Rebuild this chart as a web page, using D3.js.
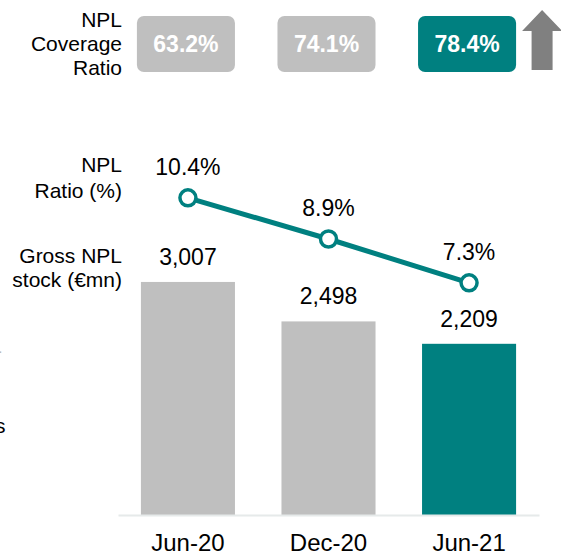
<!DOCTYPE html>
<html>
<head>
<meta charset="utf-8">
<script src="https://cdn.jsdelivr.net/npm/d3@7"></script>
<style>
  html, body { margin: 0; padding: 0; background: #fff; overflow: hidden; }
  svg { display: block; font-family: "Liberation Sans", Arial, sans-serif; }
</style>
</head>
<body>
<svg width="561" height="553"></svg>
<script>
// Chart data.
var periods = ["Jun-20", "Dec-20", "Jun-21"];
var grossNpl = [3007, 2498, 2209];
var nplRatio = [10.4, 8.9, 7.3];
var coverage = [63.2, 74.1, 78.4];

var grey = "#bfbfbf",
    teal = "#008080";

var svg = d3.select("svg");

// Scales.
var x = d3.scaleBand()
    .domain(periods)
    .range([118, 539])
    .paddingInner(0.331)
    .paddingOuter(0.163);

var yBar = d3.scaleLinear().domain([0, 4000]).range([515, 205]);
var yLine = d3.scaleLinear().domain([0, 12]).range([483, 154]);

var fmt = d3.format(",");
var last = periods[periods.length - 1];
function colorOf(p) { return p === last ? teal : grey; }

// Bars.
svg.append("g").selectAll("rect")
    .data(periods)
    .enter().append("rect")
    .attr("x", function (d) { return x(d); })
    .attr("y", function (d, i) { return yBar(grossNpl[i]); })
    .attr("width", x.bandwidth())
    .attr("height", function (d, i) { return yBar(0) - yBar(grossNpl[i]); })
    .attr("fill", colorOf);

// Bar value labels.
svg.append("g").selectAll("text")
    .data(periods)
    .enter().append("text")
    .attr("x", function (d) { return x(d) + x.bandwidth() / 2; })
    .attr("y", function (d, i) { return yBar(grossNpl[i]) - 17; })
    .attr("text-anchor", "middle")
    .attr("font-size", 23)
    .attr("fill", "#000")
    .text(function (d, i) { return fmt(grossNpl[i]); });

// Baseline axis.
var axis = svg.append("g")
    .attr("transform", "translate(0," + yBar(0) + ")")
    .call(d3.axisBottom(x).tickSize(0).tickPadding(19));
axis.select(".domain").attr("stroke", "#e6eaea").attr("stroke-width", 2);
axis.selectAll(".tick text")
    .attr("font-size", 24)
    .attr("font-family", "Liberation Sans, Arial, sans-serif")
    .attr("fill", "#000");

// NPL ratio line.
var pts = periods.map(function (p, i) {
    return [x(p) + x.bandwidth() / 2, yLine(nplRatio[i])];
});
svg.append("path")
    .attr("d", d3.line()(pts))
    .attr("fill", "none")
    .attr("stroke", teal)
    .attr("stroke-width", 5);

svg.append("g").selectAll("circle")
    .data(pts)
    .enter().append("circle")
    .attr("cx", function (d) { return d[0]; })
    .attr("cy", function (d) { return d[1]; })
    .attr("r", 8)
    .attr("fill", "#fff")
    .attr("stroke", teal)
    .attr("stroke-width", 3.5);

svg.append("g").selectAll("text")
    .data(pts)
    .enter().append("text")
    .attr("x", function (d) { return d[0]; })
    .attr("y", function (d) { return d[1] - 23; })
    .attr("text-anchor", "middle")
    .attr("font-size", 23)
    .attr("fill", "#000")
    .text(function (d, i) { return nplRatio[i].toFixed(1) + "%"; });

// Coverage ratio boxes.
var boxes = svg.append("g").selectAll("g")
    .data(periods)
    .enter().append("g");
boxes.append("rect")
    .attr("x", function (d) { return x(d) - 4; })
    .attr("y", 16)
    .attr("width", x.bandwidth() + 4)
    .attr("height", 56)
    .attr("rx", 7)
    .attr("fill", colorOf);
boxes.append("text")
    .attr("x", function (d) { return x(d) - 2 + x.bandwidth() / 2; })
    .attr("y", 52)
    .attr("text-anchor", "middle")
    .attr("font-size", 23)
    .attr("font-weight", "bold")
    .attr("fill", "#fff")
    .text(function (d, i) { return coverage[i].toFixed(1) + "%"; });

// Up arrow next to the last box.
var ax = x(last) + x.bandwidth() + 26;
svg.append("path")
    .attr("d", "M" + ax + ",10 L" + (ax + 20) + ",31 L" + (ax + 10.5) + ",31 L" + (ax + 10.5) + ",70 L" +
        (ax - 10.5) + ",70 L" + (ax - 10.5) + ",31 L" + (ax - 20) + ",31 Z")
    .attr("fill", "#808080");

// Row labels on the left.
function rowLabel(lines, yTop, lh) {
    var t = svg.append("text")
        .attr("text-anchor", "end")
        .attr("font-size", 21)
        .attr("fill", "#000");
    lines.forEach(function (l, i) {
        t.append("tspan").attr("x", 122).attr("y", yTop + i * lh).text(l);
    });
}
rowLabel(["NPL", "Coverage", "Ratio"], 27, 24);
rowLabel(["NPL", "Ratio (%)"], 172, 26);
rowLabel(["Gross NPL", "stock (€mn)"], 263, 24);

// Clipped slide remnants on the far left.
svg.append("text").attr("x", -5).attr("y", 358).attr("font-size", 21).attr("fill", "#bbb").text("-");
svg.append("text").attr("x", -5).attr("y", 433).attr("font-size", 21).attr("fill", "#000").text("s");
</script>
</body>
</html>
